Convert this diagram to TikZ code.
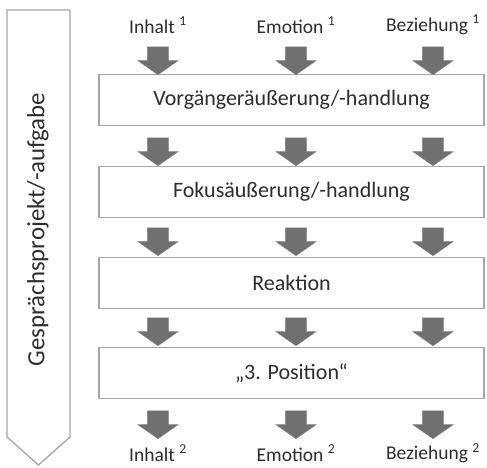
\documentclass[tikz,border=0pt]{standalone}
\usepackage{fontspec}
\setmainfont{Carlito}
\usetikzlibrary{shapes.arrows,positioning}
\definecolor{boxgray}{RGB}{165,165,165}
\definecolor{arrowgray}{RGB}{112,112,112}
\definecolor{textgray}{RGB}{45,45,45}

\begin{document}
\begin{tikzpicture}[
    x=1pt, y=-1pt,
    phasebox/.style={rectangle, draw=boxgray, line width=1.3pt, fill=white, minimum width=385pt, minimum height=51pt, font=\fontsize{22}{25}\selectfont, text=textgray},
    blockarrow/.style={single arrow, draw=arrowgray!85, fill=arrowgray, rotate=-90, inner xsep=0pt, inner ysep=10.5pt, single arrow head extend=9.5pt, single arrow tip angle=110, minimum height=28pt},
    label/.style={font=\fontsize{19.5}{22}\selectfont, text=textgray}
]
\useasboundingbox (0,0) rectangle (487,467);

% project frame
\draw[boxgray, line width=1.3pt, fill=white] (7,10) -- (70,10) -- (70,437) -- (38.5,465) -- (7,437) -- cycle;
\node[rotate=90, font=\fontsize{24.8}{28}\selectfont, text=textgray] (projekt) at (38,229.5) {Gesprächsprojekt/-aufgabe};

% top labels
\node[label] (in1) at (158,25) {Inhalt \textsuperscript{1}};
\node[label] (em1) at (296,25) {Emotion \textsuperscript{1}};
\node[label] (be1) at (433,25) {Beziehung \textsuperscript{1}};

% boxes
\node[phasebox] (vor) at (291.5,100) {Vorgängeräußerung/-handlung};
\node[phasebox] (fok) at (291.5,192) {Fokusäußerung/-handlung};
\node[phasebox] (rea) at (291.5,283) {Reaktion};
\node[phasebox] (pos) at (291.5,373) {„3. Position“};

% bottom labels
\node[label] (in2) at (158,453) {Inhalt \textsuperscript{2}};
\node[label] (em2) at (296,453) {Emotion \textsuperscript{2}};
\node[label] (be2) at (433,453) {Beziehung \textsuperscript{2}};

% arrows
\foreach \row/\y in {a/57, b/148, c/238, d/328, e/421} {
  \foreach \col/\x in {1/158, 2/296, 3/433} {
    \node[blockarrow] (arr\row\col) at (\x,\y) {};
  }
}

\end{tikzpicture}
\end{document}
